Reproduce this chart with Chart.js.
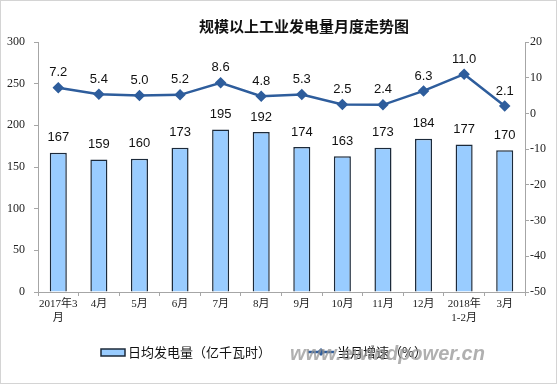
<!DOCTYPE html>
<html>
<head>
<meta charset="utf-8">
<script src="https://cdn.jsdelivr.net/npm/chart.js@4/dist/chart.umd.min.js"></script>
<style>
html,body{margin:0;padding:0;background:#fff;}
#wrap{width:557px;height:384px;position:relative;}
</style>
</head>
<body>
<div id="wrap"><canvas id="c" width="557" height="384"></canvas></div>
<script>
const categories = [['2017年3','月'],'4月','5月','6月','7月','8月','9月','10月','11月','12月',['2018年','1-2月'],'3月'];
const dailyOutput = [167,159,160,173,195,192,174,163,173,184,177,170];
const monthlyGrowth = [7.2,5.4,5.0,5.2,8.6,4.8,5.3,2.5,2.4,6.3,11.0,2.1];
const titleText = '规模以上工业发电量月度走势图';
const barLegend = '日均发电量（亿千瓦时）';
const lineLegend = '当月增速（%）';
const watermark = 'www.ewindpower.cn';

const BAR_FILL = '#99ccff', BAR_EDGE = '#1c2a3a', LINE = '#2e5d9c', AXIS = '#a6a6a6';
const xTickFont = {family:'"Liberation Serif","Noto Sans CJK SC",serif', size:11};
const yTickFont = {family:'"Liberation Serif","Noto Sans CJK SC",serif', size:12};

const decor = {
  id:'decor',
  afterDatasetsDraw(chart){
    const ctx = chart.ctx;
    ctx.save();
    ctx.fillStyle = '#111';
    ctx.font = '13px "Liberation Sans", Arial, sans-serif';
    ctx.textAlign = 'center';
    ctx.textBaseline = 'middle';
    chart.getDatasetMeta(1).data.forEach((el,i)=>{
      ctx.fillText(String(dailyOutput[i]), el.x, el.y - 15);
    });
    chart.getDatasetMeta(0).data.forEach((el,i)=>{
      ctx.fillText(monthlyGrowth[i].toFixed(1), el.x, el.y - 15);
    });
    ctx.restore();
  },
  afterDraw(chart){
    const ctx = chart.ctx;
    ctx.save();
    ctx.fillStyle = '#111';
    ctx.font = 'bold 15px "Noto Sans CJK SC", sans-serif';
    ctx.textAlign = 'center';
    ctx.textBaseline = 'middle';
    ctx.fillText(titleText, 304, 26);
    ctx.textAlign = 'left';
    ctx.font = '13px "Noto Sans CJK SC", sans-serif';
    ctx.fillStyle = BAR_FILL;
    ctx.fillRect(101, 349, 24, 7);
    ctx.strokeStyle = BAR_EDGE; ctx.lineWidth = 1.5;
    ctx.strokeRect(101, 349, 24, 7);
    ctx.fillStyle = '#111';
    ctx.fillText(barLegend, 128, 352);
    ctx.strokeStyle = LINE; ctx.lineWidth = 2.5;
    ctx.beginPath(); ctx.moveTo(308, 352); ctx.lineTo(334, 352); ctx.stroke();
    ctx.fillStyle = LINE;
    ctx.beginPath(); ctx.moveTo(321,348); ctx.lineTo(325,352); ctx.lineTo(321,356); ctx.lineTo(317,352); ctx.closePath(); ctx.fill();
    ctx.fillStyle = '#111';
    ctx.fillText(lineLegend, 337, 352);
    ctx.font = 'italic bold 20px "Liberation Sans", Arial, sans-serif';
    ctx.fillStyle = 'rgba(150,150,150,0.75)';
    ctx.textAlign = 'left';
    ctx.fillText(watermark, 290, 354);
    ctx.strokeStyle = '#d4d4d4'; ctx.lineWidth = 1;
    ctx.strokeRect(0.5, 0.5, 556, 383);
    ctx.restore();
  }
};

new Chart(document.getElementById('c'), {
  data: {
    labels: categories,
    datasets: [
      {type:'line', label: lineLegend, data: monthlyGrowth, yAxisID:'y1', order:0,
       borderColor: LINE, backgroundColor: LINE, borderWidth: 2.5, tension:0,
       pointStyle:'rectRot', pointRadius:4, pointHoverRadius:4, pointBackgroundColor: LINE, pointBorderColor: LINE},
      {type:'bar', label: barLegend, data: dailyOutput, yAxisID:'y', order:1,
       backgroundColor: BAR_FILL, borderColor: BAR_EDGE, borderWidth: 1.5,
       barPercentage: 0.42, categoryPercentage: 1}
    ]
  },
  options: {
    responsive:false, animation:false, devicePixelRatio:1,
    layout:{padding:{left:0,right:0,top:42,bottom:52}},
    plugins:{legend:{display:false}, title:{display:false}, tooltip:{enabled:false}},
    scales:{
      x:{offset:true,
         grid:{display:true, drawOnChartArea:false, drawTicks:true, tickLength:4, color:AXIS, offset:true},
         border:{display:true, color:AXIS, width:1},
         ticks:{font:xTickFont, color:'#222', maxRotation:0, autoSkip:false, padding:2},
         afterFit(s){ s.height = 40; }},
      y:{position:'left', min:0, max:300,
         grid:{display:true, drawOnChartArea:false, drawTicks:true, tickLength:4, color:AXIS},
         border:{display:true, color:AXIS, width:1},
         ticks:{stepSize:50, font:yTickFont, color:'#222', padding:9},
         afterFit(s){ s.width = 38; }},
      y1:{position:'right', min:-50, max:20,
         grid:{display:true, drawOnChartArea:false, drawTicks:true, tickLength:4, color:AXIS},
         border:{display:true, color:AXIS, width:1},
         ticks:{stepSize:10, font:yTickFont, color:'#222', padding:1},
         afterFit(s){ s.width = 32; }}
    }
  },
  plugins:[decor]
});
</script>
</body>
</html>
